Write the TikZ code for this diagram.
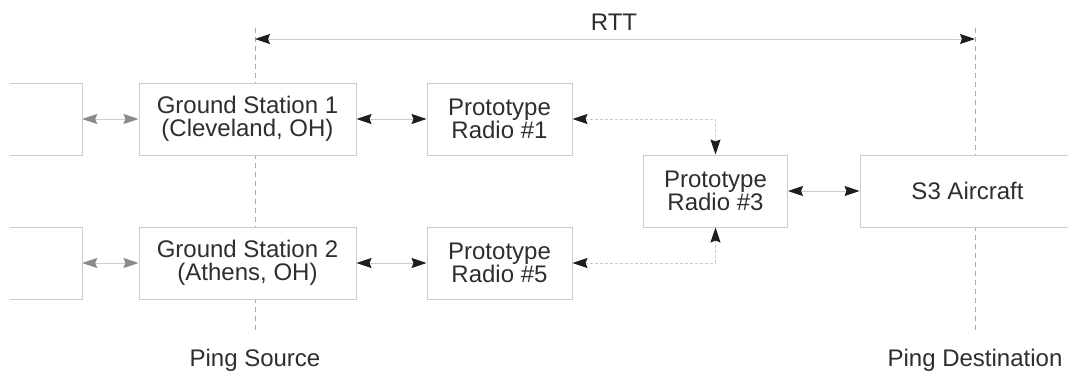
\documentclass[tikz,border=0pt]{standalone}
\usepackage{fontspec}
\setmainfont{Liberation Sans}
\usetikzlibrary{arrows.meta}
\definecolor{boxline}{HTML}{CCCCCC}
\definecolor{txt}{HTML}{2E2E2E}
\definecolor{headblack}{HTML}{1E1E1E}
\definecolor{headgray}{HTML}{8A8A8A}
\definecolor{dashgray}{HTML}{AAAAAA}
\tikzset{
  blk/.style={draw=boxline, fill=white, line width=1pt, minimum height=72pt, inner sep=0pt,
    align=center, text=txt, font=\fontsize{24}{23.5}\selectfont},
  ghost/.style={minimum width=72pt, minimum height=72pt, inner sep=0pt},
  link/.style={draw=boxline, line width=1pt,
    {Stealth[length=15pt,width=10pt,inset=2pt,color=headblack]}-{Stealth[length=15pt,width=10pt,inset=2pt,color=headblack]}},
  glink/.style={draw=boxline, line width=1pt,
    {Stealth[length=15pt,width=10pt,inset=2pt,color=headgray]}-{Stealth[length=15pt,width=10pt,inset=2pt,color=headgray]}},
  dlink/.style={draw=boxline, line width=1pt, dash pattern=on 3pt off 2pt,
    {Stealth[length=15pt,width=10pt,inset=2pt,color=headblack]}-{Stealth[length=15pt,width=10pt,inset=2pt,color=headblack]}},
  guide/.style={draw=dashgray, line width=0.8pt, dash pattern=on 5pt off 4pt},
  lbl/.style={text=txt, font=\fontsize{24}{23.5}\selectfont, inner sep=0pt, anchor=base},
}
\begin{document}
\begin{tikzpicture}[x=1pt,y=-1pt]
\clip (0,0) rectangle (1068,370);
\fill[white] (0,0) rectangle (1068,370);

% guide lines (behind the boxes)
\coordinate (srcT) at (255,28);
\coordinate (srcB) at (255,333);
\coordinate (dstT) at (975,28);
\coordinate (dstB) at (975,333);
\draw[guide] (srcT) -- (srcB);
\draw[guide] (dstT) -- (dstB);

% partial boxes at left
\node[ghost] (lb1) at (46,119) {};
\node[ghost] (lb2) at (46,263) {};
\draw[boxline, line width=1pt] (10,83) -| (lb1.east) |- (10,155);
\draw[boxline, line width=1pt] (10,227) -| (lb2.east) |- (10,299);

% main boxes
\node[blk, minimum width=217pt] (gs1) at (247.5,119) {Ground Station 1\\(Cleveland, OH)};
\node[blk, minimum width=217pt] (gs2) at (247.5,263) {Ground Station 2\\(Athens, OH)};
\node[blk, minimum width=145pt] (r1) at (499.5,119) {Prototype\\Radio \#1};
\node[blk, minimum width=145pt] (r5) at (499.5,263) {Prototype\\Radio \#5};
\node[blk, minimum width=144pt] (r3) at (715.5,191) {Prototype\\Radio \#3};
\node[blk, minimum width=215pt] (s3) at (967.5,191) {S3 Aircraft};

% RTT
\coordinate (rttL) at (255,39);
\coordinate (rttR) at (975,39);
\draw[link] (rttL) -- (rttR);
\node[lbl] (rtt) at (614,30) {RTT};

% labels
\node[lbl] (src) at (255,366.5) {Ping Source};
\node[lbl] (dst) at (975,366.5) {Ping Destination};

% connectors
\draw[glink] (lb1.east) -- (gs1.west);
\draw[glink] (lb2.east) -- (gs2.west);
\draw[link] (gs1.east) -- (r1.west);
\draw[link] (gs2.east) -- (r5.west);
\draw[dlink] (r1.east) -| (r3.north);
\draw[dlink] (r5.east) -| (r3.south);
\draw[link] (r3.east) -- (s3.west);
\end{tikzpicture}
\end{document}
